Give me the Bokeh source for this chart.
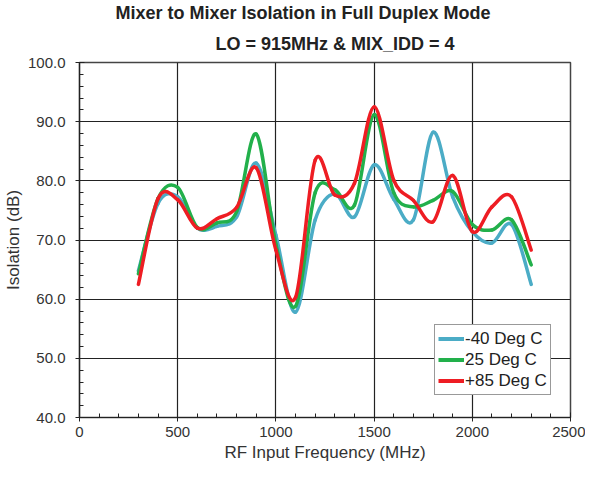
from bokeh.plotting import figure
from bokeh.models import (Range1d, FixedTicker, PrintfTickFormatter, Legend, LegendItem,
                          Title, ColumnDataSource)
from bokeh.embed import file_html
from bokeh.resources import INLINE

# ---- data ----
freq = [300, 400, 500, 600, 700, 800, 900, 1000, 1100, 1200, 1300,
        1400, 1500, 1600, 1700, 1800, 1900, 2000, 2100, 2200, 2300]
iso_m40 = [64.8, 76.2, 77.3, 72.0, 72.3, 73.9, 83.0, 70.8, 57.8, 73.4, 77.8,
           73.9, 82.7, 76.9, 73.4, 88.2, 77.3, 71.4, 69.5, 72.6, 62.5]
iso_25 = [64.3, 77.0, 78.9, 72.1, 72.9, 74.8, 87.9, 69.3, 58.8, 78.0, 78.5,
          75.9, 91.2, 78.0, 75.6, 76.7, 78.2, 72.6, 71.7, 73.4, 65.8]
iso_85 = [62.5, 77.0, 76.8, 72.0, 73.6, 75.5, 82.2, 68.3, 60.3, 83.5, 77.6,
          79.6, 92.5, 80.1, 76.7, 73.1, 80.9, 71.4, 75.6, 77.3, 68.3]
series_names = ["-40 Deg C", "25 Deg C", "+85 Deg C"]
series_colors = ["#4BACC6", "#22B04B", "#EE1D23"]
x_ticks = [0, 500, 1000, 1500, 2000, 2500]
y_ticks = [40, 50, 60, 70, 80, 90, 100]
x_label = "RF Input Frequency (MHz)"
y_label = "Isolation (dB)"

TXT = "#333333"
FONT = "Liberation Sans"

p = figure(width=585, height=466, output_backend="svg", toolbar_location=None,
           x_range=Range1d(0, 2500), y_range=Range1d(40, 100),
           min_border_left=75, min_border_right=15, min_border_bottom=0,
           min_border_top=58, title=None)
p.background_fill_color = "white"
p.border_fill_color = "white"
p.outline_line_color = "#444444"
p.outline_line_width = 1.5

# titles (second line added first so it sits nearest the plot)
t2 = Title(text="LO = 915MHz & MIX_IDD = 4", align="left", offset=136,
           text_font=FONT, text_font_size="18px", text_font_style="bold",
           text_color="#222222", standoff=18)
p.add_layout(t2, "above")
t1 = Title(text="Mixer to Mixer Isolation in Full Duplex Mode", align="left", offset=36,
           text_font=FONT, text_font_size="18px", text_font_style="bold",
           text_color="#222222", standoff=0)
p.add_layout(t1, "above")

# axes
for ax in (p.xaxis[0], p.yaxis[0]):
    ax.major_tick_in = 5
    ax.major_tick_out = 4
    ax.minor_tick_in = 4
    ax.minor_tick_out = 0
    ax.axis_line_color = "#222222"
    ax.axis_line_width = 1.2
    ax.major_tick_line_color = "#222222"
    ax.minor_tick_line_color = "#222222"
    ax.major_label_text_font = FONT
    ax.major_label_text_font_size = "15px"
    ax.major_label_text_color = TXT
    ax.axis_label_text_font = FONT
    ax.axis_label_text_font_size = "17px"
    ax.axis_label_text_font_style = "normal"
    ax.axis_label_text_color = TXT

p.xaxis.ticker = FixedTicker(ticks=x_ticks, minor_ticks=list(range(0, 2501, 100)))
p.yaxis.ticker = FixedTicker(ticks=y_ticks, minor_ticks=list(range(40, 101, 2)))
p.yaxis.formatter = PrintfTickFormatter(format="%.1f")
p.yaxis.axis_label = y_label
p.xaxis.major_label_standoff = 5
p.yaxis.major_label_standoff = 10
p.yaxis.axis_label_standoff = 2

# x axis title as a title panel below the axis
p.add_layout(Title(text=x_label, align="center", vertical_align="top", text_font=FONT,
                   text_font_size="17px", text_font_style="normal", text_color=TXT,
                   standoff=6), "below")

p.xgrid.ticker = FixedTicker(ticks=x_ticks)
p.ygrid.ticker = FixedTicker(ticks=y_ticks)
for g in (p.xgrid[0], p.ygrid[0]):
    g.grid_line_color = "#222222"
    g.grid_line_width = 1.2


def smooth_segments(xs, ys):
    """Catmull-Rom style bezier segments through the data points (Excel-like smoothing)."""
    n = len(xs)
    x0, y0, x1, y1, cx0, cy0, cx1, cy1 = ([] for _ in range(8))
    for i in range(n - 1):
        xm, ym = (xs[i - 1], ys[i - 1]) if i > 0 else (xs[i], ys[i])
        xp, yp = (xs[i + 2], ys[i + 2]) if i + 2 < n else (xs[i + 1], ys[i + 1])
        x0.append(xs[i]); y0.append(ys[i])
        x1.append(xs[i + 1]); y1.append(ys[i + 1])
        cx0.append(xs[i] + (xs[i + 1] - xm) / 6.0)
        cy0.append(ys[i] + (ys[i + 1] - ym) / 6.0)
        cx1.append(xs[i + 1] - (xp - xs[i]) / 6.0)
        cy1.append(ys[i + 1] - (yp - ys[i]) / 6.0)
    return dict(x0=x0, y0=y0, x1=x1, y1=y1, cx0=cx0, cy0=cy0, cx1=cx1, cy1=cy1)


items = []
for name, ys, col in zip(series_names, [iso_m40, iso_25, iso_85], series_colors):
    src = ColumnDataSource(smooth_segments(freq, ys))
    p.bezier(x0="x0", y0="y0", x1="x1", y1="y1", cx0="cx0", cy0="cy0",
             cx1="cx1", cy1="cy1", source=src, line_color=col, line_width=3.5,
             line_cap="round")
    # single-point line: invisible in the plot, provides the legend swatch
    lr = p.line(x=[freq[0]], y=[ys[0]], line_color=col, line_width=4)
    items.append(LegendItem(label=name, renderers=[lr]))

legend = Legend(items=items, location=(355, 22), orientation="vertical",
                label_text_font=FONT, label_text_font_size="17px", label_text_color="#222222",
                glyph_width=26, glyph_height=21, label_height=21, label_standoff=1,
                padding=3, spacing=0, margin=0,
                border_line_color="#333333", border_line_width=1.5,
                background_fill_color="white", background_fill_alpha=1.0)
p.add_layout(legend, "center")

open("out.html", "w").write(file_html(p, INLINE))
